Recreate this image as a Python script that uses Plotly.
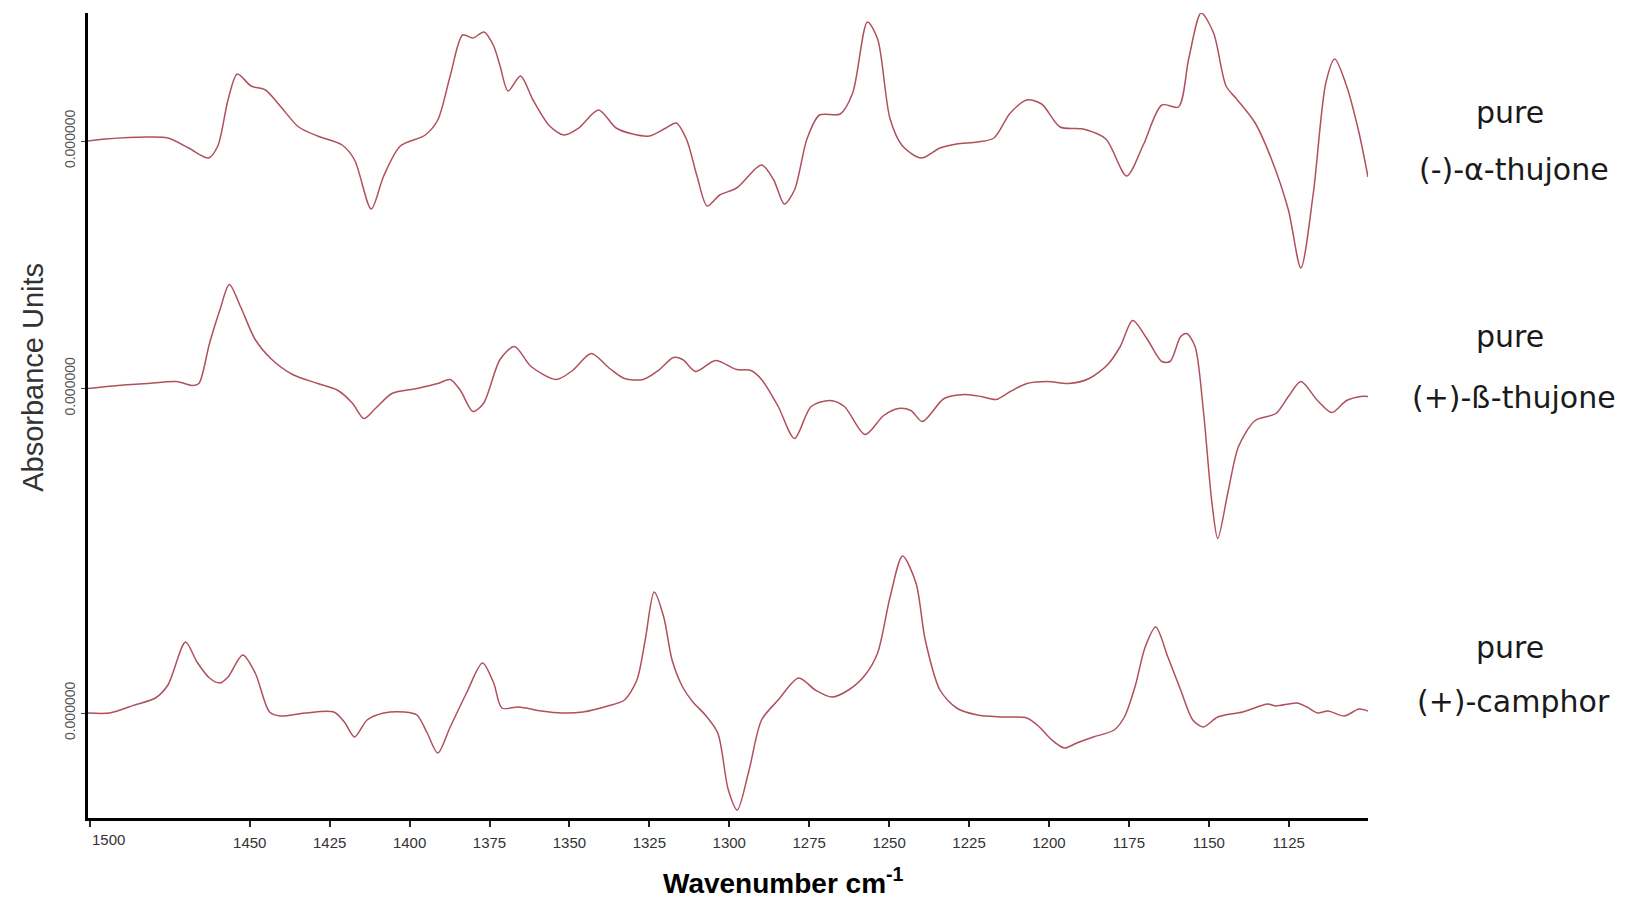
import plotly.graph_objects as go

# ---------------- data ----------------
# (-)-alpha-thujone
wn_alpha = [1500.6, 1495.1, 1482.1, 1475.6, 1469.1, 1462.9, 1460.0, 1456.8, 1453.9, 1449.6,
            1445.1, 1440.5, 1434.7, 1428.8, 1421.1, 1417.2, 1412.0, 1408.1, 1402.9, 1395.1,
            1391.2, 1387.3, 1383.4, 1380.2, 1376.7, 1373.7, 1371.7, 1369.2, 1365.3, 1361.4,
            1356.2, 1351.6, 1347.1, 1340.9, 1335.4, 1330.2, 1325.0, 1319.8, 1316.6, 1313.3,
            1310.1, 1306.9, 1303.0, 1297.7, 1289.9, 1286.1, 1282.8, 1279.6, 1275.7, 1271.8,
            1265.3, 1261.4, 1256.8, 1253.6, 1249.7, 1245.8, 1240.0, 1234.1, 1228.9, 1222.4,
            1217.2, 1212.1, 1206.9, 1202.3, 1196.5, 1189.3, 1182.2, 1175.7, 1170.5, 1164.7,
            1159.5, 1156.3, 1152.4, 1148.5, 1144.6, 1141.3, 1135.5, 1130.3, 1125.1, 1121.2,
            1117.3, 1113.4, 1110.6, 1106.9, 1103.0, 1100.2]
abs_alpha = [0.000, 0.002, 0.004, 0.003, -0.007, -0.017, -0.005, 0.041, 0.067, 0.055,
             0.051, 0.035, 0.014, 0.005, -0.004, -0.019, -0.068, -0.035, -0.005, 0.006,
             0.021, 0.065, 0.106, 0.103, 0.109, 0.095, 0.075, 0.050, 0.065, 0.041,
             0.015, 0.006, 0.013, 0.031, 0.013, 0.007, 0.005, 0.013, 0.018, 0.001,
             -0.035, -0.065, -0.054, -0.047, -0.024, -0.039, -0.063, -0.049, 0.002, 0.026,
             0.027, 0.048, 0.119, 0.102, 0.022, -0.005, -0.017, -0.007, -0.003, -0.001,
             0.003, 0.028, 0.041, 0.037, 0.014, 0.012, 0.002, -0.035, -0.004, 0.036,
             0.034, 0.082, 0.128, 0.108, 0.055, 0.042, 0.018, -0.019, -0.069, -0.127,
             -0.052, 0.058, 0.082, 0.055, 0.008, -0.036]

# (+)-beta-thujone
wn_beta = [1500.6, 1491.2, 1482.1, 1473.0, 1467.8, 1465.9, 1462.6, 1459.3, 1456.4, 1452.9,
           1448.3, 1443.1, 1436.6, 1428.8, 1422.4, 1417.8, 1414.3, 1410.7, 1405.5, 1397.7,
           1391.2, 1387.3, 1384.1, 1380.2, 1376.9, 1371.7, 1367.2, 1362.0, 1354.2, 1349.0,
           1343.2, 1337.4, 1332.8, 1327.0, 1321.8, 1317.5, 1314.6, 1310.5, 1304.3, 1297.7,
           1293.2, 1289.9, 1284.7, 1279.6, 1274.4, 1268.5, 1264.0, 1257.5, 1251.7, 1247.1,
           1243.2, 1239.6, 1232.8, 1226.3, 1221.2, 1216.6, 1212.1, 1206.9, 1200.4, 1193.9,
           1187.4, 1181.6, 1177.7, 1173.8, 1169.2, 1164.7, 1162.1, 1158.8, 1156.9, 1154.3,
           1151.7, 1149.1, 1147.2, 1143.9, 1140.7, 1135.5, 1129.0, 1125.1, 1121.2, 1116.0,
           1111.5, 1106.9, 1102.4, 1100.2]
abs_beta = [0.000, 0.003, 0.005, 0.007, 0.003, 0.005, 0.045, 0.079, 0.104, 0.082,
            0.049, 0.029, 0.014, 0.005, -0.002, -0.015, -0.030, -0.020, -0.005, 0.000,
            0.005, 0.009, -0.002, -0.023, -0.015, 0.029, 0.042, 0.022, 0.009, 0.018,
            0.035, 0.020, 0.010, 0.009, 0.019, 0.031, 0.029, 0.017, 0.028, 0.019,
            0.018, 0.009, -0.018, -0.050, -0.018, -0.012, -0.018, -0.046, -0.027, -0.020,
            -0.022, -0.033, -0.010, -0.006, -0.008, -0.011, -0.003, 0.005, 0.007, 0.005,
            0.010, 0.024, 0.042, 0.068, 0.049, 0.027, 0.027, 0.052, 0.055, 0.042,
            -0.022, -0.112, -0.150, -0.102, -0.058, -0.032, -0.025, -0.008, 0.007, -0.012,
            -0.024, -0.012, -0.008, -0.008]

# (+)-camphor
wn_camphor = [1500.6, 1493.8, 1486.0, 1479.5, 1475.6, 1470.1, 1466.5, 1462.6, 1459.3, 1456.8,
              1452.2, 1448.3, 1443.8, 1440.5, 1432.8, 1423.7, 1420.4, 1417.2, 1413.3, 1408.1,
              1401.6, 1397.7, 1394.5, 1391.2, 1387.3, 1382.2, 1377.2, 1373.7, 1371.1, 1365.9,
              1358.8, 1352.3, 1345.8, 1338.0, 1332.8, 1328.9, 1326.3, 1323.5, 1320.5, 1317.9,
              1314.6, 1311.4, 1307.5, 1303.6, 1300.3, 1297.5, 1293.8, 1289.9, 1284.7, 1278.3,
              1273.1, 1267.9, 1262.7, 1257.5, 1253.6, 1249.7, 1245.8, 1241.6, 1238.7, 1234.1,
              1228.9, 1222.4, 1214.6, 1206.9, 1203.0, 1199.1, 1195.2, 1191.3, 1186.1, 1179.6,
              1176.4, 1173.1, 1169.9, 1166.6, 1162.8, 1158.8, 1155.0, 1151.7, 1147.2, 1139.4,
              1131.6, 1129.0, 1122.5, 1119.3, 1116.0, 1112.7, 1107.6, 1103.0, 1100.2]
abs_camphor = [0.000, 0.000, 0.008, 0.015, 0.028, 0.071, 0.051, 0.035, 0.030, 0.036,
               0.058, 0.040, 0.001, -0.003, 0.000, 0.001, -0.009, -0.024, -0.007, 0.000,
               0.001, -0.002, -0.020, -0.040, -0.014, 0.020, 0.050, 0.030, 0.005, 0.006,
               0.002, 0.000, 0.001, 0.007, 0.013, 0.033, 0.073, 0.121, 0.096, 0.053,
               0.026, 0.011, -0.002, -0.020, -0.077, -0.097, -0.057, -0.007, 0.013, 0.035,
               0.023, 0.016, 0.023, 0.038, 0.060, 0.116, 0.157, 0.130, 0.073, 0.023,
               0.005, -0.002, -0.004, -0.005, -0.014, -0.027, -0.035, -0.030, -0.024, -0.017,
               -0.004, 0.026, 0.066, 0.086, 0.056, 0.023, -0.007, -0.014, -0.004, 0.001,
               0.009, 0.007, 0.010, 0.006, 0.000, 0.002, -0.003, 0.004, 0.002]

x_tick_vals = [1450, 1425, 1400, 1375, 1350, 1325, 1300, 1275, 1250, 1225, 1200, 1175, 1150, 1125]
x_tick_text = [str(v) for v in x_tick_vals]
first_tick = 1500
first_tick_text = "1500"
zero_label = "0.000000"
label_lines = [("pure", "(-)-α-thujone"), ("pure", "(+)-ß-thujone"), ("pure", "(+)-camphor")]

# ---------------- stacking (vertical offsets of each trace) ----------------
off_alpha = 0.572
off_beta = 0.3245
off_camphor = 0.0

LINE_COLOR = "#b0505c"
TICK_FONT = dict(family="Liberation Sans, Arial", size=15, color="#333")

fig = go.Figure()
for wn, ab, off in [(wn_alpha, abs_alpha, off_alpha),
                    (wn_beta, abs_beta, off_beta),
                    (wn_camphor, abs_camphor, off_camphor)]:
    fig.add_trace(go.Scatter(
        x=wn, y=[v + off for v in ab], mode="lines",
        line=dict(color=LINE_COLOR, width=1.5, shape="spline", smoothing=0.8),
        showlegend=False, hoverinfo="x+y"))

fig.update_xaxes(
    range=[1500.6, 1100.2], tickmode="array", tickvals=x_tick_vals, ticktext=x_tick_text,
    showline=True, linecolor="black", linewidth=3, ticks="outside", ticklen=6,
    tickwidth=1.5, tickcolor="#222", showgrid=False, zeroline=False,
    tickfont=TICK_FONT, ticklabelstandoff=3,
    minor=dict(tick0=first_tick, dtick=400, ticks="outside", ticklen=6,
               tickwidth=1.5, tickcolor="#222", showgrid=False))
fig.update_yaxes(
    range=[-0.105, 0.700], tickmode="array",
    tickvals=[off_camphor, off_beta, off_alpha], ticktext=[zero_label] * 3,
    tickangle=-90, showline=True, linecolor="black", linewidth=3, ticks="outside",
    ticklen=4, tickwidth=1, tickcolor="#444", showgrid=False, zeroline=False,
    tickfont=dict(family="Liberation Sans, Arial", size=14, color="#555"))

ann = []
# left-aligned first tick label
ann.append(dict(x=first_tick, xref="x", y=-0.027, yref="paper", text=first_tick_text,
                showarrow=False, xanchor="left", yanchor="middle", font=TICK_FONT))
# axis titles
ann.append(dict(x=0.543, xref="paper", y=-0.078, yref="paper",
                text="<b>Wavenumber cm<sup>-1</sup></b>", showarrow=False,
                xanchor="center", yanchor="middle",
                font=dict(family="Liberation Sans, Arial", size=28, color="black")))
ann.append(dict(x=-0.043, xref="paper", y=0.548, yref="paper", text="Absorbance Units",
                textangle=-90, showarrow=False, xanchor="center", yanchor="middle",
                font=dict(family="Liberation Sans, Arial", size=29, color="#333")))
# sample labels
label_pos = [(0.876, 0.805), (0.598, 0.522), (0.212, 0.145)]
for (l1, l2), (y1, y2) in zip(label_lines, label_pos):
    ann.append(dict(x=1.111, xref="paper", y=y1, yref="paper", text=l1, showarrow=False,
                    xanchor="center", yanchor="middle",
                    font=dict(family="DejaVu Sans", size=30, color="#1a1a1a")))
    ann.append(dict(x=1.114, xref="paper", y=y2, yref="paper", text=l2, showarrow=False,
                    xanchor="center", yanchor="middle",
                    font=dict(family="DejaVu Sans", size=30, color="#1a1a1a")))

fig.update_layout(
    width=1641, height=898, autosize=False,
    margin=dict(l=88, r=273, t=13, b=80),
    paper_bgcolor="white", plot_bgcolor="white",
    annotations=ann)

fig.write_html("out.html", include_plotlyjs=True, config={"displayModeBar": False})
